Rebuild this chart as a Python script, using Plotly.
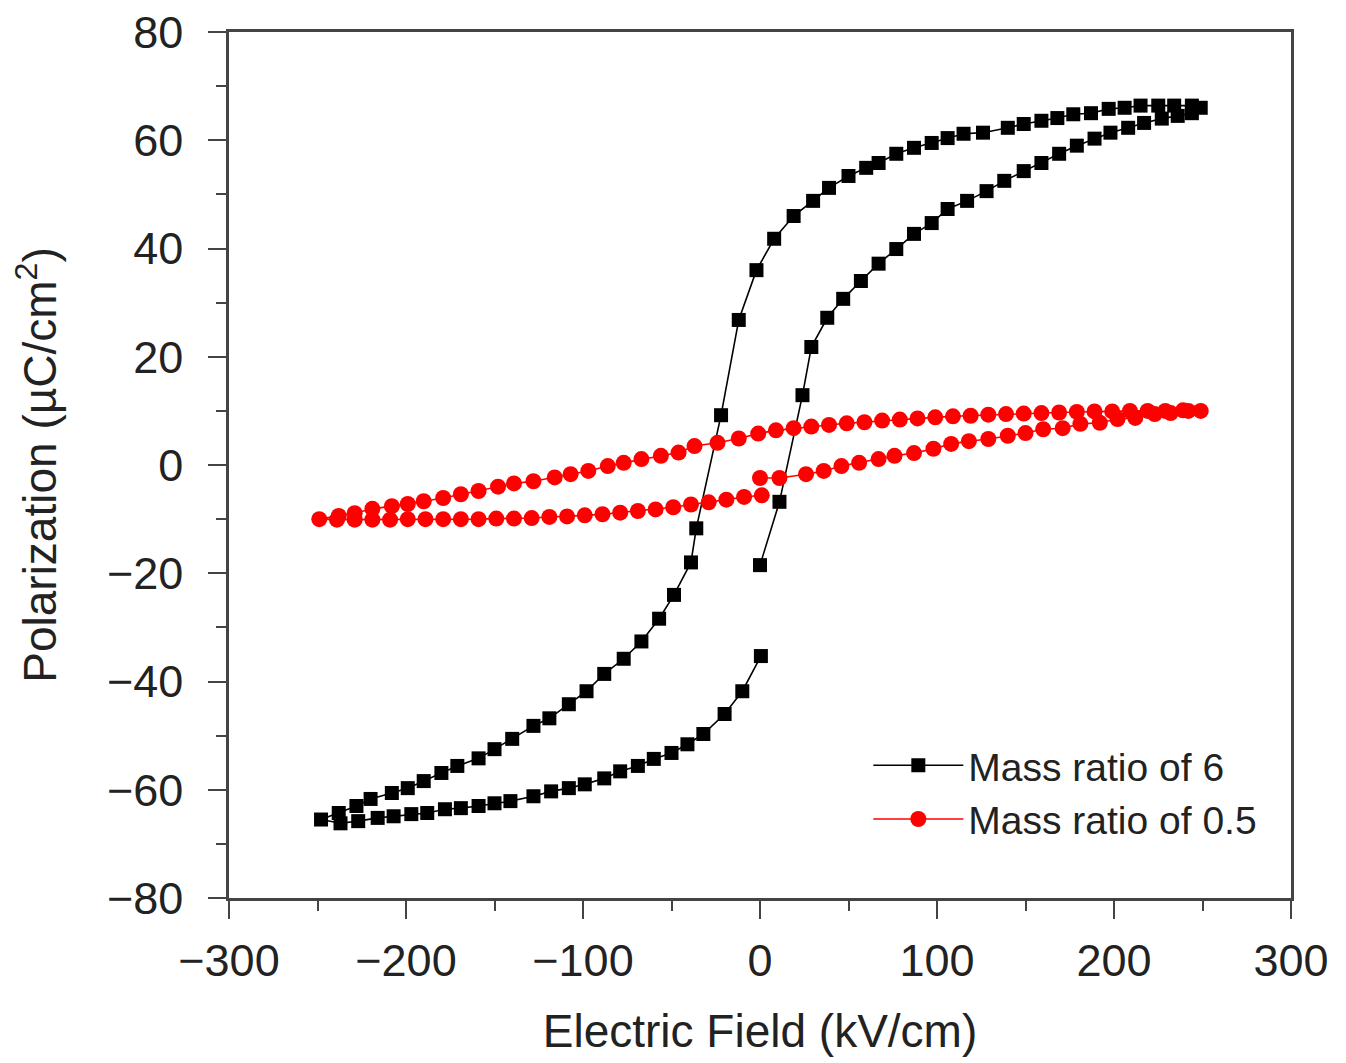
import plotly.graph_objects as go

# ---- Data: Mass ratio of 6 (black squares), in measured order ----
e6_up = [0, 11, 24, 29, 38, 47, 57, 67, 77, 87, 97, 106, 117, 128, 138, 149, 159, 169, 179, 189, 198, 208, 217, 227, 236, 244, 249]
p6_up = [-18.5, -6.8, 12.9, 21.8, 27.2, 30.7, 34.0, 37.2, 39.9, 42.7, 44.7, 47.3, 48.8, 50.6, 52.5, 54.3, 55.8, 57.5, 59.0, 60.3, 61.4, 62.3, 63.2, 64.0, 64.5, 65.0, 66.0]

e6_down = [244, 234, 225, 215, 206, 197, 187, 177, 168, 159, 149, 140, 126, 115, 106, 97, 87, 77, 67, 60, 50, 39, 30, 19, 8, -2, -12, -22, -36, -39, -48.6, -57, -67, -77, -88, -98, -108, -119, -128, -140, -150, -159, -171, -180, -190, -199, -208, -220, -228, -238, -248]
p6_down = [66.4, 66.4, 66.4, 66.4, 66.0, 65.8, 65.0, 64.8, 64.1, 63.6, 63.0, 62.3, 61.4, 61.2, 60.4, 59.5, 58.6, 57.5, 55.8, 54.9, 53.4, 51.2, 48.8, 46.0, 41.8, 36.0, 26.8, 9.2, -11.7, -18.0, -24.0, -28.4, -32.6, -35.8, -38.6, -41.8, -44.2, -46.8, -48.2, -50.6, -52.5, -54.2, -55.6, -56.9, -58.4, -59.7, -60.6, -61.7, -63.0, -64.3, -65.5]

e6_back = [-237, -227, -216, -207, -197, -188, -178, -169, -159, -150, -141, -128, -118, -108, -99, -88, -79, -69, -60, -50, -41, -32, -20, -10, 0.5]
p6_back = [-66.2, -65.8, -65.2, -64.9, -64.5, -64.3, -63.6, -63.4, -63.0, -62.5, -62.1, -61.2, -60.3, -59.7, -59.0, -57.9, -56.6, -55.6, -54.3, -53.2, -51.6, -49.7, -46.0, -41.8, -35.3]

# ---- Data: Mass ratio of 0.5 (red circles), in measured order ----
e05_up = [0, 11, 26, 36, 46, 56, 67, 76, 87, 98, 108, 118, 129, 140, 150, 160, 171, 181, 192, 202, 212, 223, 232, 242, 249]
p05_up = [-2.4, -2.4, -1.7, -1.1, -0.2, 0.4, 1.1, 1.7, 2.2, 3.0, 3.9, 4.4, 4.8, 5.4, 5.9, 6.6, 6.8, 7.6, 7.8, 8.5, 8.7, 9.4, 9.6, 10.0, 10.0]

e05_down = [239, 229, 219, 209, 199, 189, 179, 169, 159, 149, 139, 129, 119, 109, 99, 89, 79, 69, 59, 49, 39, 29, 19, 9, -1, -12, -24, -37, -46, -56, -67, -77, -86, -97, -107, -116, -128, -139, -148, -159, -169, -179, -190, -199, -208, -219, -229, -238, -249]
p05_down = [10.1, 10.0, 10.0, 10.0, 9.9, 9.9, 9.8, 9.7, 9.6, 9.5, 9.4, 9.3, 9.1, 9.0, 8.8, 8.6, 8.4, 8.2, 7.9, 7.7, 7.4, 7.1, 6.8, 6.4, 5.8, 4.9, 4.1, 3.5, 2.3, 1.7, 1.1, 0.4, -0.2, -1.1, -1.7, -2.3, -3.0, -3.4, -4.0, -4.8, -5.4, -6.1, -6.7, -7.2, -7.6, -8.1, -8.9, -9.4, -10.0]

e05_back = [-239, -229, -219, -209, -199, -189, -179, -169, -159, -149, -139, -129, -119, -109, -99, -89, -79, -69, -59, -49, -39, -29, -19, -9, 1]
p05_back = [-10.1, -10.1, -10.1, -10.1, -10.0, -10.0, -10.0, -10.0, -10.0, -9.9, -9.9, -9.8, -9.6, -9.5, -9.3, -9.1, -8.8, -8.5, -8.2, -7.8, -7.3, -6.9, -6.4, -5.9, -5.6]

series_names = ["Mass ratio of 6", "Mass ratio of 0.5"]
x_ticks = [-300, -200, -100, 0, 100, 200, 300]
y_ticks = [-80, -60, -40, -20, 0, 20, 40, 60, 80]

FONT = "Liberation Sans, Arial, sans-serif"

fig = go.Figure()
fig.add_trace(go.Scatter(
    x=e6_up + e6_down + e6_back, y=p6_up + p6_down + p6_back,
    mode="lines+markers", name=series_names[0],
    line=dict(color="black", width=1.6),
    marker=dict(symbol="square", size=14, color="black"),
))
fig.add_trace(go.Scatter(
    x=e05_up + e05_down + e05_back, y=p05_up + p05_down + p05_back,
    mode="lines+markers", name=series_names[1],
    line=dict(color="#ff0000", width=1.6),
    marker=dict(symbol="circle", size=16, color="#ff0000"),
))

axis_common = dict(
    showline=True, linecolor="#444", linewidth=2.5, mirror=True,
    showgrid=False, zeroline=False, automargin=False,
    ticklabeloverflow="allow",
    ticks="outside", ticklen=18, tickwidth=2, tickcolor="#444",
    tickfont=dict(family=FONT, size=45, color="#222"),
)

fig.update_xaxes(
    range=[-300, 300], tickvals=x_ticks,
    minor=dict(ticks="outside", ticklen=10, tickwidth=2, tickcolor="#444", dtick=50, tick0=0),
    title=dict(text="Electric Field (kV/cm)", font=dict(family=FONT, size=46, color="#222"), standoff=31),
    ticklabelstandoff=3,
    **axis_common,
)
fig.update_yaxes(
    range=[-80, 80], tickvals=y_ticks,
    minor=dict(ticks="outside", ticklen=10, tickwidth=2, tickcolor="#444", dtick=10, tick0=0),
    title=dict(text="Polarization (µC/cm<sup>2</sup>)", font=dict(family=FONT, size=46, color="#222"), standoff=36),
    ticklabelstandoff=16,
    **axis_common,
)

fig.update_layout(
    width=1346, height=1063,
    margin=dict(l=221, r=63, t=24, b=173),
    paper_bgcolor="white", plot_bgcolor="white",
    font=dict(family=FONT, color="#222"),
    legend=dict(
        x=0.602, y=0.19, xanchor="left", yanchor="top",
        bgcolor="rgba(0,0,0,0)", borderwidth=0,
        font=dict(family=FONT, size=39, color="#222"),
        itemwidth=90, tracegroupgap=0,
    ),
)

fig.write_html("out.html")
